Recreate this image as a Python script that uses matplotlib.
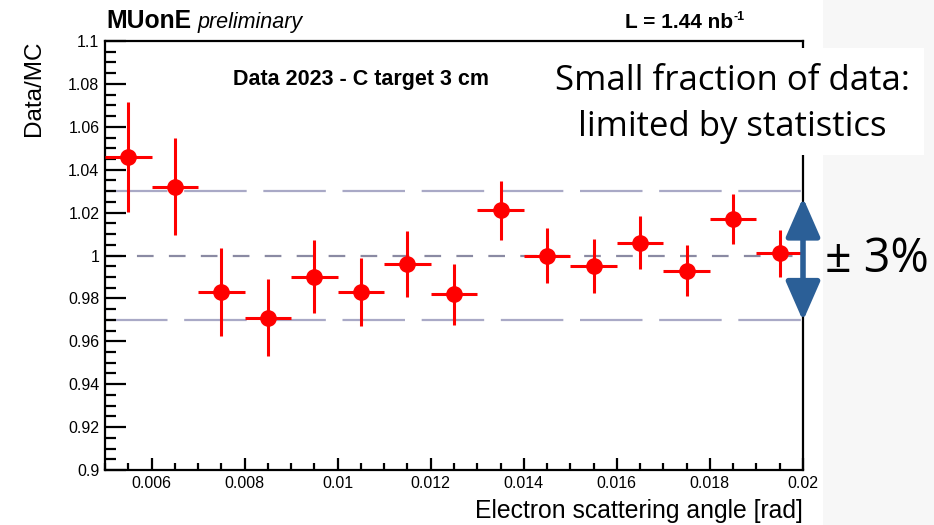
import numpy as np
import matplotlib
matplotlib.use("Agg")
import matplotlib.pyplot as plt
from matplotlib.patches import Rectangle
from matplotlib.ticker import MultipleLocator, FuncFormatter

plt.rcParams['font.family'] = ['Liberation Sans', 'DejaVu Sans']
plt.rcParams['lines.scale_dashes'] = False

# bin centres of electron scattering angle [rad]
angle = [0.0055, 0.0065, 0.0075, 0.0085, 0.0095, 0.0105, 0.0115, 0.0125,
         0.0135, 0.0145, 0.0155, 0.0165, 0.0175, 0.0185, 0.0195]
angle_err = [0.0005] * 15
# Data/MC ratio and its statistical error
ratio = [1.046, 1.032, 0.983, 0.971, 0.990, 0.983, 0.996, 0.982,
         1.021, 1.000, 0.995, 1.006, 0.993, 1.017, 1.001]
ratio_err = [0.0255, 0.0226, 0.0205, 0.018, 0.017, 0.016, 0.0152, 0.0142,
             0.0138, 0.013, 0.0126, 0.0122, 0.0117, 0.0115, 0.0111]
band = [0.97, 1.0, 1.03]

W, H = 934, 525
fig = plt.figure(figsize=(W / 100, H / 100), dpi=100, facecolor='white')

# light grey strip on the right side of the slide
fig.patches.append(Rectangle((823 / W, 0), 1 - 823 / W, 1, transform=fig.transFigure,
                             facecolor='#f7f7f7', edgecolor='none', zorder=-1))

ax = fig.add_axes([105 / W, (H - 470) / H, 698 / W, 429 / H])
ax.set_xlim(0.005, 0.02)
ax.set_ylim(0.9, 1.1)

# reference lines at 1 and +-3%
ax.axhline(band[0], color='#a9a9c6', lw=1.6, dashes=(45, 12), zorder=1)
ax.axhline(band[2], color='#a9a9c6', lw=1.6, dashes=(45, 12), zorder=1)
ax.axhline(band[1], color='#8a8aa3', lw=1.6, dashes=(12, 11), zorder=1)

ax.errorbar(angle, ratio, xerr=angle_err, yerr=ratio_err, fmt='o', color='#ff0000',
            ms=11, elinewidth=2.2, capsize=0, zorder=3)

# ROOT-like axes
for s in ax.spines.values():
    s.set_linewidth(1.6)
ax.xaxis.set_major_locator(MultipleLocator(0.002))
ax.xaxis.set_minor_locator(MultipleLocator(0.0005))
ax.yaxis.set_major_locator(MultipleLocator(0.02))
ax.yaxis.set_minor_locator(MultipleLocator(0.005))
fmt = FuncFormatter(lambda v, p: ('%.3f' % v).rstrip('0').rstrip('.') if v != 1 else '1')
ax.xaxis.set_major_formatter(fmt)
ax.yaxis.set_major_formatter(fmt)
ax.tick_params(axis='both', which='both', direction='in', top=False, right=False,
               labelsize=11.5, width=1.6, pad=4)
ax.tick_params(axis='y', which='major', length=15)
ax.tick_params(axis='y', which='minor', length=8)
ax.tick_params(axis='x', which='major', length=9)
ax.tick_params(axis='x', which='minor', length=5)
ax.set_xlabel('Electron scattering angle [rad]', fontsize=17.8, ha='right', x=1.0, labelpad=6)
ax.set_ylabel('Data/MC', fontsize=17.5, ha='right', y=1.0, labelpad=17)

ax.text(0.0105, 1.082, 'Data 2023 - C target 3 cm', fontsize=15.5, fontweight='bold',
        ha='center', va='center')
fig.text(106 / W, 1 - 28 / H, 'MUonE', fontsize=17.8, fontweight='bold', va='baseline')
fig.text(198 / W, 1 - 28 / H, 'preliminary', fontsize=15.5, style='italic', va='baseline')
fig.text(733 / W, 1 - 28 / H, 'L = 1.44 nb', fontsize=15, fontweight='bold',
         ha='right', va='baseline')
fig.text(733 / W, 1 - 20 / H, '-1', fontsize=9, fontweight='bold',
         ha='left', va='baseline')

# +-3% arrow at the right edge
ax.annotate('', xy=(0.02, 1.027), xytext=(0.02, 0.9695), annotation_clip=False,
            arrowprops=dict(arrowstyle='<|-|>,head_length=24,head_width=10.5',
                            mutation_scale=1, color='#2b5f97', lw=4,
                            shrinkA=0, shrinkB=0), zorder=4)

# white note box covering the frame corner
fig.patches.append(Rectangle((548 / W, 1 - 155 / H), (924 - 548) / W, 107 / H,
                             transform=fig.transFigure, facecolor='white',
                             edgecolor='none', zorder=1))
fig.text(732 / W, 1 - 104 / H, 'Small fraction of data:\nlimited by statistics',
         family=['Open Sans', 'DejaVu Sans'], fontsize=25, ha='center', va='center',
         linespacing=1.5, zorder=3)
fig.text(825 / W, 1 - 259 / H, '\u00b1 3%', family=['Open Sans', 'DejaVu Sans'],
         fontsize=33.5, ha='left', va='center', zorder=3)

fig.savefig('out.png', dpi=100)
